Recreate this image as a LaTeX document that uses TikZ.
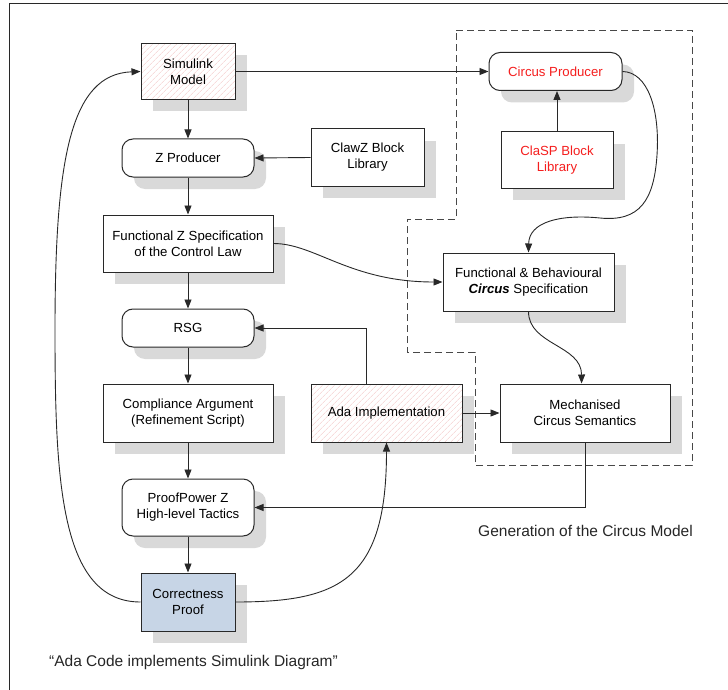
\documentclass[tikz,border=0pt]{standalone}
\usepackage{fontspec}
\setmainfont{Liberation Sans}
\usetikzlibrary{arrows.meta,shadows,patterns.meta,calc}
\definecolor{shadowgray}{RGB}{217,217,217}
\definecolor{edgegray}{RGB}{40,40,40}
\definecolor{hatchpink}{RGB}{244,200,200}
\definecolor{proofblue}{RGB}{199,213,230}
\definecolor{circred}{RGB}{245,30,30}
\tikzset{
  box/.style={draw=edgegray, line width=1pt, fill=white, align=center, inner sep=2pt,
    font=\fontsize{13.2}{16}\selectfont,
    general shadow={shadow xshift=12pt, shadow yshift=-12pt, fill=shadowgray, draw=none}},
  rbox/.style={box, rounded corners=11pt},
  hatched/.style={postaction={pattern={Lines[angle=45,distance=4pt,line width=0.6pt]}, pattern color=hatchpink},
    postaction={draw=edgegray, line width=1pt}},
  arr/.style={draw=edgegray, line width=0.9pt, -{Triangle[length=9pt,width=7pt]}},
  region/.style={draw=edgegray!85, line width=0.9pt, dash pattern=on 7pt off 4pt},
  caption/.style={font=\fontsize{15.5}{18}\selectfont, text=black!85}
}
\begin{document}
\begin{tikzpicture}[x=1pt,y=-1pt]
\useasboundingbox (0,0) rectangle (728,690);
% outer frame (top and left edges visible)
\draw[edgegray, line width=1pt] (728,4) -- (9,4) -- (9,690);

% dashed region
\draw[region] (456,30) -- (692,30) -- (692,465) -- (475,465) -- (475,352) -- (407,352) -- (407,219) -- (456,219) -- cycle;

% nodes
\node[box, hatched, minimum width=94, minimum height=56] (sim) at (188,71.5) {Simulink\\Model};
\node[rbox, minimum width=132, minimum height=38] (zprod) at (188,158) {Z Producer};
\node[box, minimum width=113, minimum height=57] (clawz) at (367.5,157.5) {ClawZ Block\\Library};
\node[rbox, minimum width=133, minimum height=38, text=circred] (circp) at (555.5,71.5) {Circus Producer};
\node[box, minimum width=112, minimum height=56, text=circred] (clasp) at (557,160) {ClaSP Block\\Library};
\node[box, minimum width=170, minimum height=57] (fzs) at (188,243.5) {Functional Z Specification\\of the Control Law};
\node[rbox, minimum width=132, minimum height=38] (rsg) at (188,328) {RSG};
\node[box, minimum width=170, minimum height=58] (comp) at (188,413) {Compliance Argument\\(Refinement Script)};
\node[box, hatched, minimum width=151, minimum height=58] (ada) at (386.5,413) {Ada Implementation};
\node[box, minimum width=171, minimum height=58] (fbc) at (528.5,282) {Functional \& Behavioural\\\textbf{\textit{Circus}} Specification};
\node[box, minimum width=170, minimum height=58] (mech) at (585,413) {Mechanised\\Circus Semantics};
\node[rbox, minimum width=132, minimum height=57] (pp) at (188,507.5) {ProofPower Z\\High-level Tactics};
\node[box, fill=proofblue, minimum width=94, minimum height=58] (cp) at (188,602) {Correctness\\Proof};

% captions
\node[caption] (cap1) at (193.5,662) {“Ada Code implements Simulink Diagram”};
\node[caption] (cap2) at (585.5,531) {Generation of the Circus Model};

% connectors
\draw[arr] (sim.east) -- (circp.west);
\draw[arr] (sim.south) -- (zprod.north);
\draw[arr] (clawz.west) -- (zprod.east);
\draw[arr] (zprod.south) -- (fzs.north);
\draw[arr] (clasp.north) -- (clasp.north |- circp.south);
\draw[arr] (circp.east) .. controls (648,72) and (660,110) .. (657,155)
   .. controls (654,200) and (640,222) .. (600,218)
   .. controls (560,214) and (529,222) .. (fbc.north);
\draw[arr] (fzs.east) .. controls (315,243.5) and (350,282) .. (fbc.west);
\draw[arr] (fzs.south) -- (rsg.north);
\draw[arr] ($(ada.north west)!0.37!(ada.north east)$) |- (rsg.east);
\draw[arr] (rsg.south) -- (comp.north);
\draw[arr] (ada.east) -- (mech.west);
\draw[arr] (fbc.south) .. controls (528.5,345) and (581.5,345) .. ($(mech.north west)!0.48!(mech.north east)$);
\draw[arr] (comp.south) -- (pp.north);
\draw[arr] (mech.south) |- (pp.east);
\draw[arr] (pp.south) -- (cp.north);
\draw[arr] (cp.west) .. controls (60,602) and (55,480) .. (55,330)
   .. controls (55,160) and (70,74) .. (sim.west);
\draw[arr] (cp.east) .. controls (340,602) and (386.5,580) .. (ada.south);
\end{tikzpicture}
\end{document}
